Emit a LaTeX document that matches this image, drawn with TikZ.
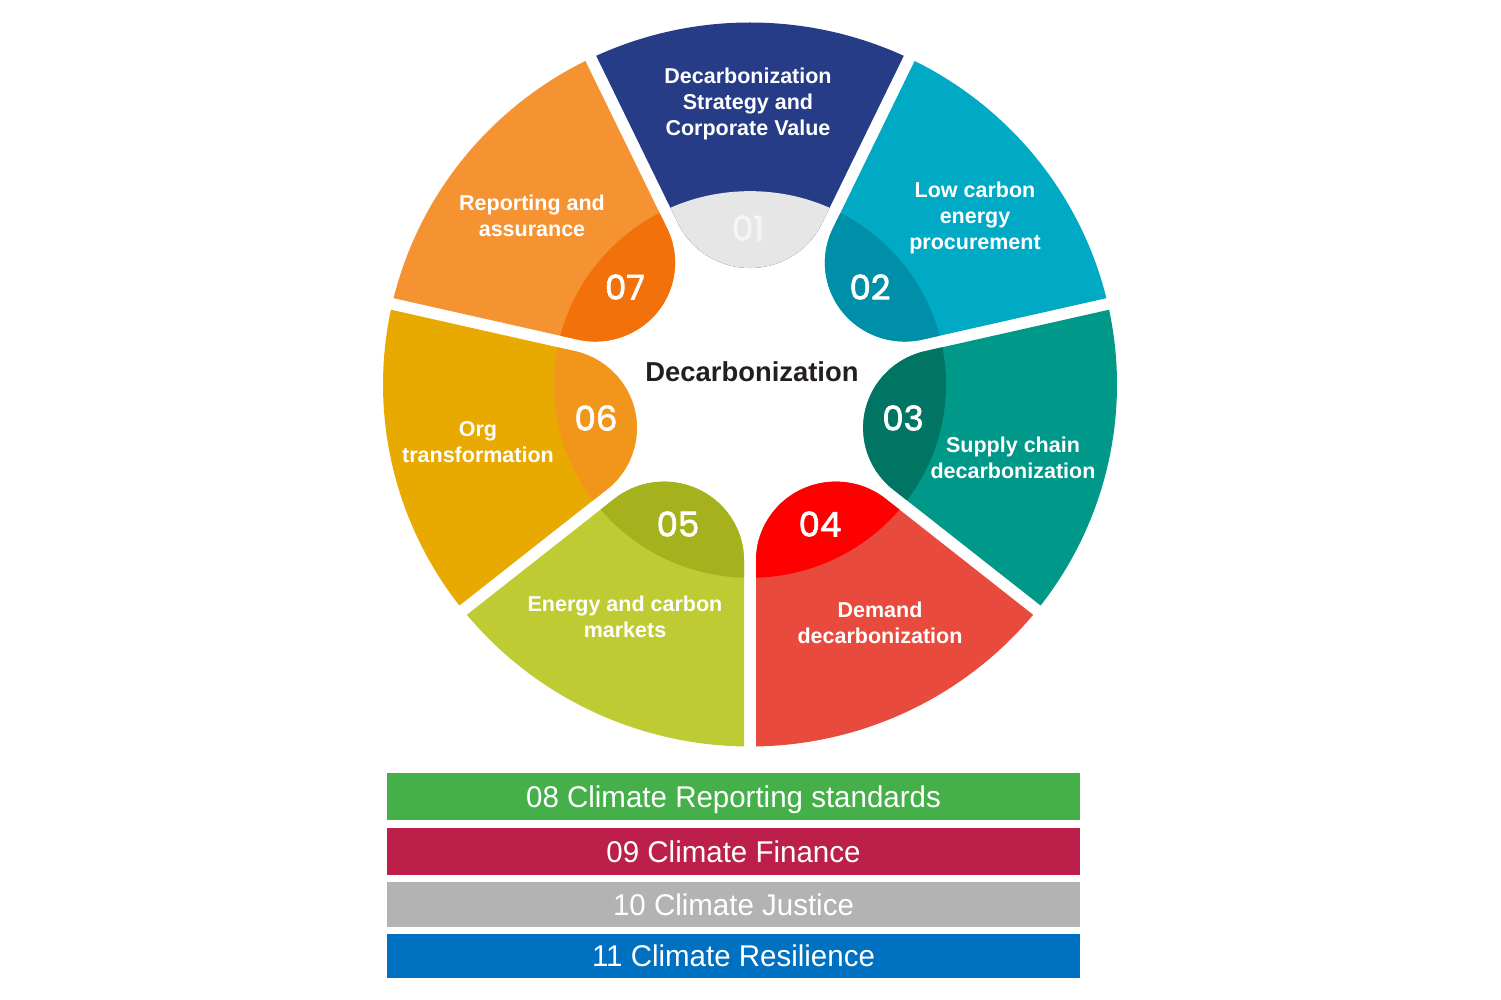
\documentclass[tikz,border=0pt]{standalone}
\usepackage{fontspec}
\usepackage{graphicx}
\setmainfont{Liberation Sans}
\newfontfamily\numfont[FakeBold=2]{Poppins}
\definecolor{cA}{HTML}{263C87}
\definecolor{cAd}{HTML}{E6E6E6}
\definecolor{cB}{HTML}{00AAC5}
\definecolor{cBd}{HTML}{008FA8}
\definecolor{cC}{HTML}{009889}
\definecolor{cCd}{HTML}{007563}
\definecolor{cD}{HTML}{E84B3D}
\definecolor{cDd}{HTML}{FE0000}
\definecolor{cE}{HTML}{BFCB33}
\definecolor{cEd}{HTML}{A5B21E}
\definecolor{cF}{HTML}{E8A900}
\definecolor{cFd}{HTML}{F1961A}
\definecolor{cG}{HTML}{F59231}
\definecolor{cGd}{HTML}{F2710B}
\definecolor{barG}{HTML}{45B04A}
\definecolor{barR}{HTML}{BD1F4B}
\definecolor{barS}{HTML}{B3B3B3}
\definecolor{barB}{HTML}{0070C0}
\definecolor{centertext}{HTML}{231F20}
\newcommand\segpath[1]{({#1-24.777}:367) arc[start angle={#1-24.777}, end angle={#1+24.777}, radius=367] -- ({#1+23.788}:178.5) arc[start angle={#1+115.714}, end angle={#1+244.286}, radius=79.91] -- cycle}
\newcommand\bartext[1]{\scalebox{0.983}[1]{#1}}
\begin{document}
\begin{tikzpicture}[x=1pt,y=1pt,
  seglabel/.style={text=white, align=center, inner sep=0pt, font=\bfseries\fontsize{21.5}{26}\selectfont},
  segnum/.style={text=white, inner sep=0pt, font=\numfont\fontsize{34}{34}\selectfont},
  barbox/.style={minimum width=693pt, minimum height=47pt, inner sep=0pt, text height=21.5pt, text depth=0pt, text=white, font=\fontsize{30}{30}\selectfont}]
\useasboundingbox (0,0) rectangle (1501,1000);
\fill[white] (0,0) rectangle (1501,1000);
\begin{scope}[shift={(750,615.5)},yscale=0.9864]
\foreach \ph/\cl/\cd in {90/cA/cAd, 38.571/cB/cBd, -12.857/cC/cCd, -64.286/cD/cDd, -115.714/cE/cEd, -167.143/cF/cFd, 141.429/cG/cGd}{
  \fill[\cl] \segpath{\ph};
  \begin{scope}
    \clip (0,0) circle (196);
    \fill[\cd] \segpath{\ph};
  \end{scope}
}
\end{scope}
% segment labels
\node[seglabel] (l1) at (748,896) {Decarbonization\\Strategy and\\Corporate Value};
\node[seglabel] (l2) at (975,782.5) {Low carbon\\energy\\procurement};
\node[seglabel] (l3) at (1013,542.5) {Supply chain\\decarbonization};
\node[seglabel] (l4) at (880,377) {Demand\\decarbonization};
\node[seglabel] (l5) at (625,383) {Energy and carbon\\markets};
\node[seglabel] (l6) at (478,558) {Org\\transformation};
\node[seglabel] (l7) at (532,784) {Reporting and\\assurance};
% numbers
\node[segnum, text=white!96!black] (n1) at (748,772) {01};
\node[segnum] (n2) at (870,713) {02};
\node[segnum] (n3) at (903,582) {03};
\node[segnum] (n4) at (820,476) {04};
\node[segnum] (n5) at (678,476) {05};
\node[segnum] (n6) at (596,582) {06};
\node[segnum] (n7) at (625,713) {07};
% center
\node[text=centertext, inner sep=0pt, font=\bfseries\fontsize{27.4}{30}\selectfont] (ctr) at (752,628) {Decarbonization};
% bars
\node[barbox, fill=barG] (b8) at (733.5,203.5) {\bartext{08 Climate Reporting standards}};
\node[barbox, fill=barR] (b9) at (733.5,148.5) {\bartext{09 Climate Finance}};
\node[barbox, fill=barS, minimum height=45pt] (b10) at (733.5,95.5) {\bartext{10 Climate Justice}};
\node[barbox, fill=barB, minimum height=44pt] (b11) at (733.5,44) {\bartext{11 Climate Resilience}};
\end{tikzpicture}
\end{document}
